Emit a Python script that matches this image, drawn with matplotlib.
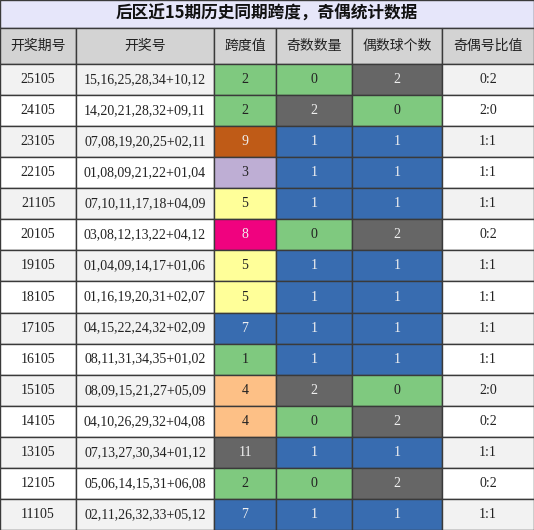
import matplotlib
matplotlib.use("Agg")
import matplotlib.pyplot as plt
from matplotlib.patches import Rectangle

TITLE = "后区近15期历史同期跨度，奇偶统计数据"
HEADERS = ["开奖期号", "开奖号", "跨度值", "奇数数量", "偶数球个数", "奇偶号比值"]
periods = ["25105", "24105", "23105", "22105", "21105", "20105", "19105", "18105",
           "17105", "16105", "15105", "14105", "13105", "12105", "11105"]
numbers = ["15,16,25,28,34+10,12", "14,20,21,28,32+09,11", "07,08,19,20,25+02,11",
           "01,08,09,21,22+01,04", "07,10,11,17,18+04,09", "03,08,12,13,22+04,12",
           "01,04,09,14,17+01,06", "01,16,19,20,31+02,07", "04,15,22,24,32+02,09",
           "08,11,31,34,35+01,02", "08,09,15,21,27+05,09", "04,10,26,29,32+04,08",
           "07,13,27,30,34+01,12", "05,06,14,15,31+06,08", "02,11,26,32,33+05,12"]
spans = [2, 2, 9, 3, 5, 8, 5, 5, 7, 1, 4, 4, 11, 2, 7]
odd_cnt = [0, 2, 1, 1, 1, 0, 1, 1, 1, 1, 2, 0, 1, 0, 1]
even_cnt = [2, 0, 1, 1, 1, 2, 1, 1, 1, 1, 0, 2, 1, 2, 1]
ratios = ["0:2", "2:0", "1:1", "1:1", "1:1", "0:2", "1:1", "1:1", "1:1", "1:1",
          "2:0", "0:2", "1:1", "0:2", "1:1"]

SPAN_COL = {1: "#7fc97f", 2: "#7fc97f", 3: "#beaed4", 4: "#fdc086", 5: "#ffff99",
            7: "#386cb0", 8: "#f0027f", 9: "#bf5b17", 11: "#666666"}
CNT_COL = {0: "#7fc97f", 1: "#386cb0", 2: "#666666"}
DARK = {"#386cb0", "#f0027f", "#bf5b17", "#666666"}

plt.rcParams["font.family"] = ["Noto Sans CJK SC", "Liberation Serif", "DejaVu Sans"]

W, H = 534, 530
fig = plt.figure(figsize=(W / 100, H / 100), dpi=100)
ax = fig.add_axes([0, 0, 1, 1])
ax.set_xlim(0, W)
ax.set_ylim(H, 0)
ax.axis("off")

cols = [0, 76, 214, 276, 352, 442, 534]
title_h, head_h = 28, 36
row_h = (H - title_h - head_h) / len(periods)
line = "#3a3a3a"

ax.add_patch(Rectangle((0, 0), W, title_h, fc="#e6e6fa", ec=line, lw=1))
ax.text(W / 2, title_h / 2, TITLE, ha="center", va="center", fontsize=12,
        fontweight="bold", color="#111111")

y0 = title_h
for i, h in enumerate(HEADERS):
    ax.add_patch(Rectangle((cols[i], y0), cols[i + 1] - cols[i], head_h,
                           fc="#d3d3d3", ec=line, lw=1))
    ax.text((cols[i] + cols[i + 1]) / 2, y0 + head_h / 2, h, ha="center",
            va="center", fontsize=10, color="#222222")

for r in range(len(periods)):
    y = title_h + head_h + r * row_h
    bg = "#f2f2f2" if r % 2 == 0 else "white"
    vals = [periods[r], numbers[r], str(spans[r]), str(odd_cnt[r]),
            str(even_cnt[r]), ratios[r]]
    fills = [bg, bg, SPAN_COL[spans[r]], CNT_COL[odd_cnt[r]],
             CNT_COL[even_cnt[r]], bg]
    for c in range(6):
        ax.add_patch(Rectangle((cols[c], y), cols[c + 1] - cols[c], row_h,
                               fc=fills[c], ec=line, lw=1))
        tc = "#f0f0f0" if fills[c] in DARK else "#222222"
        ax.text((cols[c] + cols[c + 1]) / 2, y + row_h / 2, vals[c],
                ha="center", va="center", fontsize=10, color=tc,
                family=["Liberation Serif", "DejaVu Sans"])

fig.savefig("out.png", dpi=100)
